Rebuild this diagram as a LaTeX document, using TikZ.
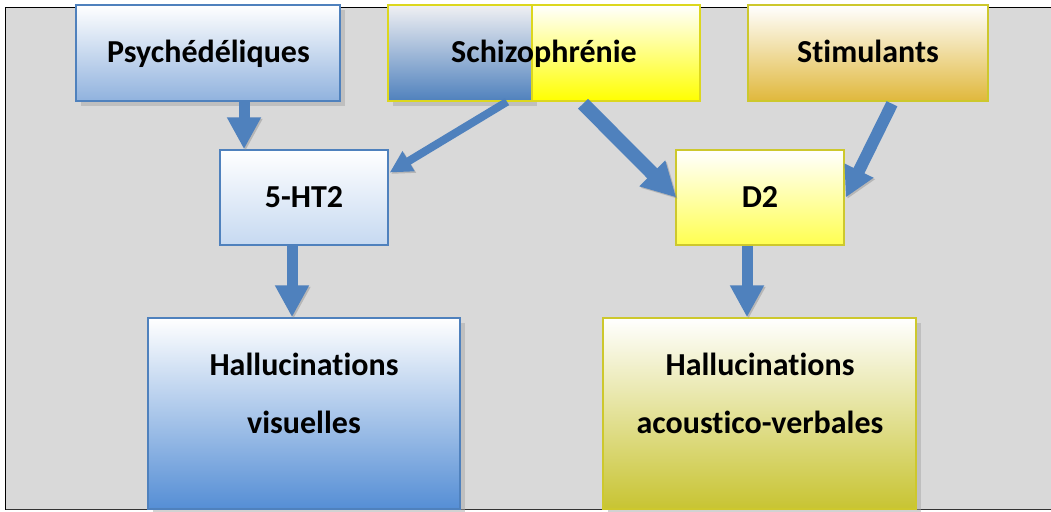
\documentclass[tikz,border=0pt]{standalone}
\usepackage{fontspec}
\setmainfont{Carlito}[Ligatures=NoCommon]
\usetikzlibrary{arrows.meta,shadows,calc}
\definecolor{bggray}{RGB}{217,217,217}
\definecolor{ablue}{RGB}{79,129,189}
\definecolor{bblue}{RGB}{79,129,189}
\definecolor{ybord}{RGB}{205,200,45}
\definecolor{ybright}{RGB}{220,215,30}
\definecolor{psychb}{RGB}{144,178,222}
\definecolor{htb}{RGB}{198,217,241}
\definecolor{hvb}{RGB}{85,142,213}
\definecolor{d2b}{RGB}{255,255,80}
\definecolor{stimb}{RGB}{224,184,60}
\definecolor{havb}{RGB}{200,196,50}
\definecolor{schl}{RGB}{240,240,243}
\begin{document}
\begin{tikzpicture}[x=1pt,y=-1pt,
  box/.style={rectangle, inner sep=0pt, line width=1.5pt},
  shad/.style={drop shadow={shadow xshift=5pt,shadow yshift=-5pt,fill=black!35,opacity=0.5}},
  lbl/.style={font=\bfseries\fontsize{32}{38}\selectfont, anchor=base, inner sep=0pt},
  arr/.style={draw=ablue, line width=#1,
    preaction={draw=black!45, opacity=0.45, transform canvas={xshift=1.5pt,yshift=-1.5pt}}}
]
\useasboundingbox (0,0) rectangle (1051,511);
% background panel
\fill[bggray] (5.5,7.5) rectangle (1051,509.5);
\draw[line width=1.6pt, black] (1051,7.5) -- (5.5,7.5) -- (5.5,509.5);
\draw[line width=1.6pt, black!80] (5.5,509.5) -- (1051,509.5);

% boxes
\node[box, shad, draw=bblue, top color=white, bottom color=psychb,
  minimum width=264pt, minimum height=96pt] (psych) at (208,53) {};
\node[box, shad, draw=ybright, top color=schl, bottom color=ablue,
  minimum width=144pt, minimum height=96pt] (schizoL) at (460,53) {};
\node[box, draw=ybright, top color=white, bottom color=yellow,
  minimum width=168pt, minimum height=96pt] (schizoR) at (616,53) {};
\node[box, draw=ybord, top color=white, bottom color=stimb,
  minimum width=240pt, minimum height=96pt] (stim) at (868,53) {};
\node[box, draw=bblue, top color=white, bottom color=htb,
  minimum width=168pt, minimum height=95pt] (fiveht) at (304,197.5) {};
\node[box, draw=ybord, top color=white, bottom color=d2b,
  minimum width=168pt, minimum height=95pt] (dtwo) at (760,197.5) {};
\node[box, shad, draw=bblue, top color=white, bottom color=hvb,
  minimum width=312pt, minimum height=191pt] (hv) at (304,413.5) {};
\node[box, shad, draw=ybord, top color=white, bottom color=havb,
  minimum width=313pt, minimum height=191pt] (hav) at (759.5,413.5) {};

% labels
\node[lbl] (psychT) at (208.5,63) {Psychédéliques};
\node[lbl] (schizoT) at (544,63) {Schizophrénie};
\node[lbl] (stimT) at (868,63) {Stimulants};
\node[lbl] (fivehtT) at (304,207) {5-HT2};
\node[lbl] (dtwoT) at (760,207) {D2};
\node[lbl] (hvT1) at (304,375) {Hallucinations};
\node[lbl] (hvT2) at (304,433) {visuelles};
\node[lbl] (havT1) at (760,375) {Hallucinations};
\node[lbl] (havT2) at (760,433) {acoustico-verbales};

% arrows
\draw[arr=11pt, -{Triangle[length=32pt,width=32pt]}]
  ($(psych.south)+(36,0)$) -- ($(fiveht.north)+(-60,0)$);
\draw[arr=8pt, -{Triangle[length=22pt,width=22pt]}]
  ($(schizoL.south)+(47,0)$) -- ($(fiveht.east)+(1,-25)$);
\draw[arr=14pt, -{Triangle[length=34pt,width=34pt]}]
  ($(schizoR.south)+(-33,2)$) -- ($(dtwo.west)+(1,0)$);
\draw[arr=12pt, -{Triangle[length=30pt,width=30pt]}]
  ($(stim.south)+(24,2)$) -- ($(dtwo.east)+(1,0)$);
\draw[arr=11pt, -{Triangle[length=32pt,width=32pt]}]
  ($(fiveht.south)+(-12,0)$) -- ($(hv.north)+(-12,0)$);
\draw[arr=11pt, -{Triangle[length=32pt,width=32pt]}]
  ($(dtwo.south)+(-13,0)$) -- ($(hav.north)+(-12.5,0)$);
\end{tikzpicture}
\end{document}
